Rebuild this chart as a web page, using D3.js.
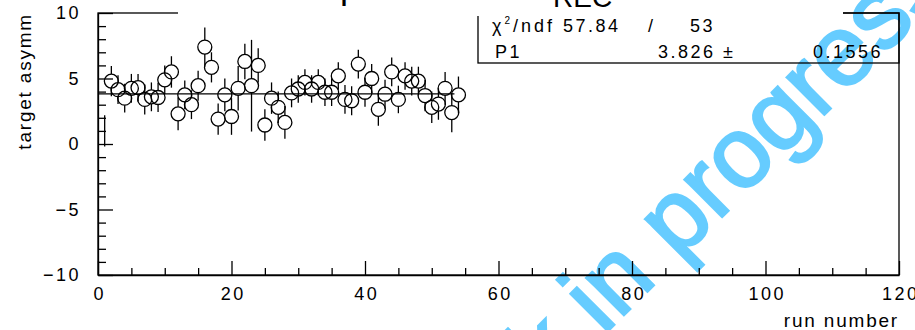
<!DOCTYPE html>
<html><head><meta charset="utf-8">
<script src="https://cdn.jsdelivr.net/npm/d3@7"></script>
<style>
body{margin:0;background:#fff;}
svg{display:block;}
text{font-family:"Liberation Sans",Arial,Helvetica,sans-serif;}
</style></head><body>
<svg id="c" width="915" height="330"></svg>
<script>
// ---- data ----
const runs = [2,3,4,5,6,7,8,9,10,11,12,13,14,15,16,17,18,19,20,21,22,23,24,25,26,27,28,29,30,31,32,33,34,35,36,37,38,39,40,41,42,43,44,45,46,47,48,49,50,51,52,53,54];
const asym = [4.8,4.15,3.5,4.25,4.3,3.4,3.6,3.55,4.9,5.5,2.3,3.75,3.0,4.45,7.4,5.85,1.9,3.75,2.1,4.25,6.3,4.45,6.0,1.45,3.5,2.8,1.65,3.9,4.2,4.7,4.2,4.7,3.95,3.95,5.2,3.4,3.3,6.1,3.95,5.0,2.65,3.8,5.5,3.4,5.2,4.8,4.8,3.7,2.8,3.05,4.25,2.4,3.75];
const asymErr = [1.15,1.1,1.1,1.1,1.05,1.15,1.1,1.1,1.1,1.2,1.25,1.1,1.1,1.15,1.5,1.15,1.2,1.25,1.4,1.7,1.35,3.5,1.3,1.2,1.2,1.2,1.25,1.1,1.05,1.0,1.05,1.0,1.05,1.05,1.05,1.1,1.1,1.1,1.1,1.1,1.25,1.1,1.1,1.05,1.05,1.1,1.1,1.2,1.2,1.2,1.25,1.5,1.4];
// a bar drawn without a marker at run 1
const bareRuns = [1];
const bareVal = [1.0];
const bareErr = [1.2];
const fitP1 = 3.826, fitP1Err = 0.1556, chi2 = 57.84, ndf = 53;
const fitRange = [0, 53.4];
const xTicks = [0,20,40,60,80,100,120];
const xMinorTicks = [5,10,15,25,30,35,45,50,55,65,70,75,85,90,95,105,110,115];
const yTicks = [-10,-5,0,5,10];
const yMinorTicks = [-9,-8,-7,-6,-4,-3,-2,-1,1,2,3,4,6,7,8,9];
const xTitle = "run number", yTitle = "target asymm";
const watermark = "Work in progress";

// ---- drawing ----
const svg = d3.select("#c");
const L = 98, R = 899, T = 13, B = 275;
const x = d3.scaleLinear().domain([0,120]).range([L,R]);
const y = d3.scaleLinear().domain([-10,10]).range([B,T]);
const ink = "#000", lw = 1.3;
const axisFont = 18, ls = 2.5;

// watermark (underneath everything)
svg.append("text").attr("transform","translate(420,519) rotate(-45)")
  .attr("font-size",100).attr("fill","#66ccff").attr("stroke","#66ccff").attr("stroke-width",2.5)
  .text(watermark);

function styleAxis(g){
  g.selectAll("path,line").attr("stroke", ink).attr("stroke-width", lw);
  g.selectAll("text").attr("fill", ink).attr("font-size", axisFont).attr("letter-spacing", ls)
   .attr("font-family", '"Liberation Sans",Arial,sans-serif');
}

// frame
svg.append("rect").attr("x",L).attr("y",T).attr("width",R-L).attr("height",B-T)
  .attr("fill","none").attr("stroke",ink).attr("stroke-width",lw);

// x axis
const gxm = svg.append("g").attr("transform",`translate(0,${B})`)
  .call(d3.axisBottom(x).tickValues(xMinorTicks).tickSize(-7).tickSizeOuter(0).tickFormat(""));
gxm.select(".domain").remove(); styleAxis(gxm);
const gx = svg.append("g").attr("transform",`translate(0,${B})`)
  .call(d3.axisBottom(x).tickValues(xTicks).tickSize(-14).tickSizeOuter(0).tickPadding(12).tickFormat(d3.format("d")));
styleAxis(gx);
gx.selectAll("text").attr("dx", ls/2);

// y axis
const gym = svg.append("g").attr("transform",`translate(${L},0)`)
  .call(d3.axisLeft(y).tickValues(yMinorTicks).tickSize(-8).tickSizeOuter(0).tickFormat(""));
gym.select(".domain").remove(); styleAxis(gym);
const gy = svg.append("g").attr("transform",`translate(${L},0)`)
  .call(d3.axisLeft(y).tickValues(yTicks).tickSize(-15).tickSizeOuter(0).tickPadding(17).tickFormat(d3.format("d")));
styleAxis(gy);

// axis titles
svg.append("text").attr("x",R).attr("y",327).attr("text-anchor","end")
  .attr("font-size",19).attr("letter-spacing",1.8).text(xTitle);
svg.append("text").attr("transform",`translate(31,${T}) rotate(-90)`).attr("text-anchor","end")
  .attr("font-size",19).attr("letter-spacing",1.8).text(yTitle);

// data
const r = 7;
const pts = runs.map((d,i)=>({x:d, v:asym[i], e:asymErr[i]}));
const gp = svg.append("g").attr("stroke",ink).attr("stroke-width",lw).attr("fill","none");
pts.forEach(p=>{
  const cx = x(p.x), cy = y(p.v), yt = y(p.v+p.e), yb = y(p.v-p.e);
  if (cy - r > yt) gp.append("line").attr("x1",cx).attr("x2",cx).attr("y1",yt).attr("y2",cy-r);
  if (cy + r < yb) gp.append("line").attr("x1",cx).attr("x2",cx).attr("y1",cy+r).attr("y2",yb);
});
gp.selectAll("circle").data(pts).join("circle")
  .attr("cx",d=>x(d.x)).attr("cy",d=>y(d.v)).attr("r",r);
bareRuns.forEach((d,i)=>{
  gp.append("line").attr("x1",x(d)).attr("x2",x(d)).attr("y1",y(bareVal[i]+bareErr[i])).attr("y2",y(bareVal[i]-bareErr[i]));
});

// fit line
svg.append("line").attr("x1",x(fitRange[0])).attr("x2",x(fitRange[1]))
  .attr("y1",y(fitP1)).attr("y2",y(fitP1)).attr("stroke",ink).attr("stroke-width",lw);

// stats box
const sb = svg.append("g");
sb.append("rect").attr("x",478).attr("y",T).attr("width",R-478).attr("height",50)
  .attr("fill","none").attr("stroke",ink).attr("stroke-width",lw);
const st = (xx,yy,txt)=>sb.append("text").attr("x",xx).attr("y",yy).attr("font-size",18)
  .attr("letter-spacing",ls).attr("fill",ink).text(txt);
const c2 = sb.append("text").attr("x",492).attr("y",32).attr("font-size",18).attr("letter-spacing",3);
c2.append("tspan").text("χ");
c2.append("tspan").attr("font-size",10).attr("dy",-8).text("2");
c2.append("tspan").attr("dy",8).text("/ndf");
st(563,32,d3.format(".2f")(chi2));
st(648,32,"/");
st(690,32,String(ndf));
st(495,58,"P1");
st(658,58,d3.format(".3f")(fitP1)+" ±");
st(813,58,String(fitP1Err));

// title box
svg.append("rect").attr("x",178).attr("y",-5).attr("width",843-178).attr("height",21).attr("fill","#fff");
svg.append("text").attr("x",340).attr("y",-2).attr("font-family",'"Liberation Serif","Times New Roman",serif')
  .attr("font-size",36).attr("fill",ink).text("p");
svg.append("text").attr("x",553).attr("y",7).attr("font-family",'"Liberation Serif","Times New Roman",serif')
  .attr("font-size",28).attr("fill",ink).text("REC");
</script>
</body></html>
